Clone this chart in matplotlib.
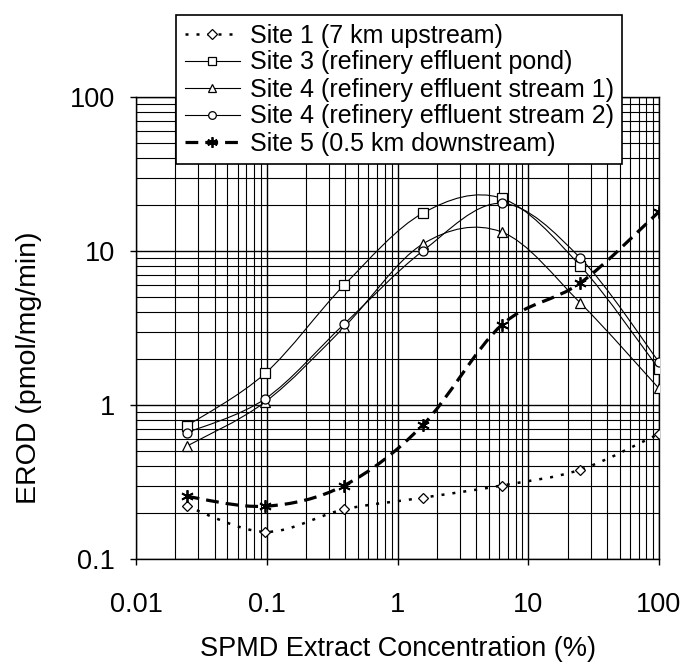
import numpy as np
import matplotlib
matplotlib.use('Agg')
import matplotlib.pyplot as plt
from matplotlib.path import Path
from matplotlib.patches import PathPatch
from matplotlib.lines import Line2D

plt.rcParams['font.family'] = ['Liberation Sans', 'DejaVu Sans']

# SPMD extract dilution series (4-fold), % of extract
conc = [0.0244, 0.0977, 0.39, 1.56, 6.25, 25, 100]

# EROD activity (pmol/mg/min)
site1 = [0.22, 0.15, 0.21, 0.25, 0.30, 0.38, 0.65]
site3 = [0.73, 1.61, 6.0, 17.6, 22.0, 8.0, 1.71]
site4a = [0.54, 1.05, 3.2, 11.1, 13.3, 4.6, 1.28]
site4b = [0.66, 1.10, 3.35, 10.0, 20.4, 9.0, 1.90]
site5 = [0.255, 0.22, 0.30, 0.74, 3.3, 6.2, 18.0]

labels = ["Site 1 (7 km upstream)",
          "Site 3 (refinery effluent pond)",
          "Site 4 (refinery effluent stream 1)",
          "Site 4 (refinery effluent stream 2)",
          "Site 5 (0.5 km downstream)"]

x_ticks = [0.01, 0.1, 1, 10, 100]
x_ticklabels = ["0.01", "0.1", "1", "10", "100"]
y_ticks = [0.1, 1, 10, 100]
y_ticklabels = ["0.1", "1", "10", "100"]


def smooth_path(x, y):
    # excel-style smoothed line: catmull-rom bezier in log-log space
    pts = np.column_stack([np.log10(x), np.log10(y)])
    n = len(pts)
    verts = [pts[0]]
    codes = [Path.MOVETO]
    for i in range(n - 1):
        p0 = pts[max(i - 1, 0)]
        p1 = pts[i]
        p2 = pts[i + 1]
        p3 = pts[min(i + 2, n - 1)]
        verts += [p1 + (p2 - p0) / 6, p2 - (p3 - p1) / 6, p2]
        codes += [Path.CURVE4] * 3
    return Path(10 ** np.array(verts), codes)


styles = [
    dict(ls=(0, (1.2, 3.2)), lw=1.8, marker='D', ms=5.5),
    dict(ls='-', lw=0.8, marker='s', ms=6.5),
    dict(ls='-', lw=0.8, marker='^', ms=7),
    dict(ls='-', lw=0.8, marker='o', ms=6.5),
    dict(ls=(0, (4, 2.2)), lw=2.3, marker=(6, 2, 0), ms=9),
]

fig = plt.figure(figsize=(6.92, 6.72), dpi=100)
ax = fig.add_axes([136 / 692, 1 - 559 / 672, 523 / 692, 462 / 672])
ax.set_xscale('log')
ax.set_yscale('log')
ax.set_xlim(0.01, 100)
ax.set_ylim(0.1, 100)

handles = []
for ys, st, lab in zip([site1, site3, site4a, site4b, site5], styles, labels):
    patch = PathPatch(smooth_path(conc, ys), fill=False, edgecolor='black',
                      lw=st['lw'], linestyle=st['ls'], zorder=3)
    ax.add_patch(patch)
    mew = 1.3 if st['marker'] == (6, 2, 0) else 0.9
    ax.plot(conc, ys, ls='none', marker=st['marker'], ms=st['ms'],
            mfc='white', mec='black', mew=mew, zorder=4)
    handles.append(Line2D([], [], color='black', lw=st['lw'], ls=st['ls'],
                          marker=st['marker'], ms=st['ms'] * 0.85,
                          mfc='white', mec='black', mew=mew))

ax.grid(True, which='major', color='black', lw=1.0)
ax.grid(True, which='minor', color='black', lw=0.8)
ax.set_xticks(x_ticks)
ax.set_xticklabels(x_ticklabels)
ax.set_yticks(y_ticks)
ax.set_yticklabels(y_ticklabels)
ax.tick_params(which='major', direction='out', length=4, width=1,
               labelsize=19.5, color='black')
ax.tick_params(axis='x', which='major', pad=20)
ax.tick_params(axis='y', which='major', pad=11)
ax.tick_params(which='minor', length=0)
for sp in ax.spines.values():
    sp.set_color('black')
    sp.set_linewidth(1.0)

ax.set_xlabel("SPMD Extract Concentration (%)", fontsize=19.5)
ax.xaxis.set_label_coords(0.5, (559 - 636) / 462)
ax.set_ylabel("EROD (pmol/mg/min)", fontsize=20.5)
ax.yaxis.set_label_coords((42 - 136) / 523, (559 - 368) / 462)

leg = ax.legend(handles, labels, loc='upper left',
                bbox_to_anchor=((176 - 136) / 523, (559 - 15) / 462),
                borderaxespad=0, fontsize=18, frameon=True, fancybox=False,
                framealpha=1, edgecolor='black', handlelength=2.2,
                handletextpad=0.4, labelspacing=0.12, borderpad=0.34)
leg.get_frame().set_linewidth(1.2)
leg.set_zorder(10)

fig.savefig('out.png', dpi=100, facecolor='white')
